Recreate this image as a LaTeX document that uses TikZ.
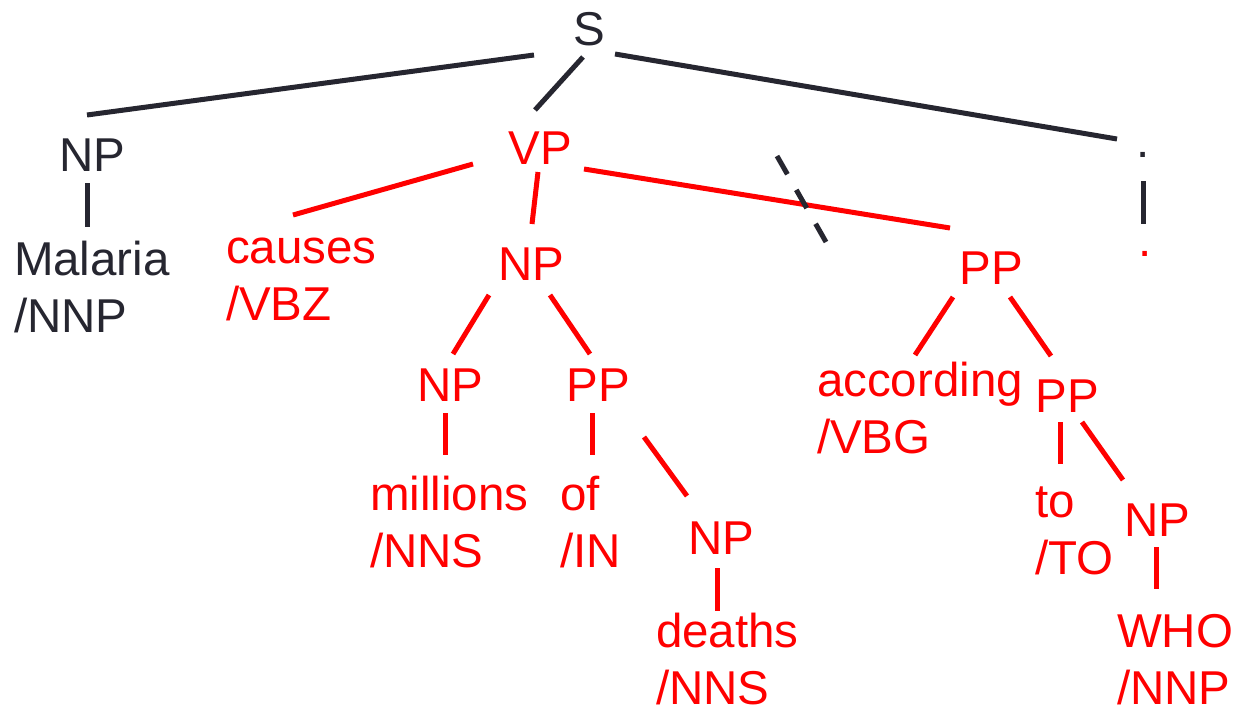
\documentclass[tikz,border=0pt]{standalone}
\usepackage{fontspec}
\setmainfont{Liberation Sans}
\definecolor{inkdark}{RGB}{38,38,48}
\definecolor{inkred}{RGB}{255,0,0}
\newcommand{\twoline}[2]{\vtop{\baselineskip=57pt\lineskiplimit=-100pt\hbox{#1}\hbox{#2}}}
\begin{document}
\begin{tikzpicture}[x=1pt,y=-1pt,
  lbl/.style={inner sep=0pt, outer sep=0pt, font=\fontsize{47.5}{57}\selectfont, anchor=base},
  word/.style={lbl, anchor=base west},
  dk/.style={text=inkdark},
  rd/.style={text=inkred},
  edk/.style={draw=inkdark, line width=5pt},
  erd/.style={draw=inkred, line width=5pt},
  cut/.style={draw=inkdark, line width=5pt, dash pattern=on 21pt off 18pt}]
\useasboundingbox (0,0) rectangle (1235,715);
% phrase labels
\node[lbl,dk] (S)   at (589,45)  {S};
\node[lbl,dk] (np1) at (92.5,171) {NP};
\node[lbl,rd] (vp)  at (540,164) {VP};
\node[lbl,rd] (np2) at (531,280) {NP};
\node[lbl,rd] (np3) at (450,401) {NP};
\node[lbl,rd] (pp1) at (598,401) {PP};
\node[lbl,rd] (np4) at (721,554) {NP};
\node[lbl,rd] (pp2) at (991,284) {PP};
\node[lbl,rd] (pp3) at (1067,412) {PP};
\node[lbl,rd] (np5) at (1157,536) {NP};
\node[lbl,dk] (d1)  at (1143,157) {.};
\node[lbl,rd] (d2)  at (1145,256) {.};
% words
\node[word,dk] (mal) at (14,275)   {\twoline{Malaria}{/NNP}};
\node[word,rd] (cau) at (226,263)  {\twoline{causes}{/VBZ}};
\node[word,rd] (mil) at (370,510)  {\twoline{millions}{/NNS}};
\node[word,rd] (of)  at (560,510)  {\twoline{of}{/IN}};
\node[word,rd] (dea) at (656,647)  {\twoline{deaths}{/NNS}};
\node[word,rd] (acc) at (817,396)  {\twoline{according}{/VBG}};
\node[word,rd] (to)  at (1035,517) {\twoline{to}{/TO}};
\node[word,rd] (who) at (1117,647) {\twoline{WHO}{/NNP}};
% black edges
\draw[edk] ([shift={(-55,10)}]S.base) -- ([shift={(-5.5,-56)}]np1.base);
\draw[edk] ([shift={(-6,12)}]S.base) -- ([shift={(-5,-54)}]vp.base);
\draw[edk] ([shift={(26,9)}]S.base) -- ([shift={(-26,-18)}]d1.base);
\draw[edk] ([shift={(-5.5,12)}]np1.base) -- ([shift={(73,-48)}]mal.base west);
\draw[edk] ([shift={(0,24)}]d1.base) -- ([shift={(-2,-32)}]d2.base);
% red edges
\draw[erd] ([shift={(-67,0)}]vp.base) -- ([shift={(67,-48)}]cau.base west);
\draw[erd] ([shift={(-2,8)}]vp.base) -- ([shift={(1,-56)}]np2.base);
\draw[erd] ([shift={(44,5)}]vp.base) -- ([shift={(-41,-56)}]pp2.base);
\draw[erd] ([shift={(-42,15)}]np2.base) -- ([shift={(3,-47)}]np3.base);
\draw[erd] ([shift={(19,15)}]np2.base) -- ([shift={(-8,-47)}]pp1.base);
\draw[erd] ([shift={(-5,12)}]np3.base) -- ([shift={(75,-55)}]mil.base west);
\draw[erd] ([shift={(-6,12)}]pp1.base) -- ([shift={(32,-55)}]of.base west);
\draw[erd] ([shift={(46,36)}]pp1.base) -- ([shift={(-34,-58)}]np4.base);
\draw[erd] ([shift={(-4,14)}]np4.base) -- ([shift={(61,-36)}]dea.base west);
\draw[erd] ([shift={(-38,13)}]pp2.base) -- ([shift={(98,-41)}]acc.base west);
\draw[erd] ([shift={(19,13)}]pp2.base) -- ([shift={(-16,-56)}]pp3.base);
\draw[erd] ([shift={(-7,10)}]pp3.base) -- ([shift={(25,-53)}]to.base west);
\draw[erd] ([shift={(15,10)}]pp3.base) -- ([shift={(-34,-56)}]np5.base);
\draw[erd] ([shift={(-1,11)}]np5.base) -- ([shift={(39,-58)}]who.base west);
% cut mark
\coordinate (cutA) at (777,156);
\coordinate (cutB) at (826,242);
\draw[cut] (cutA) -- (cutB);
\end{tikzpicture}
\end{document}
